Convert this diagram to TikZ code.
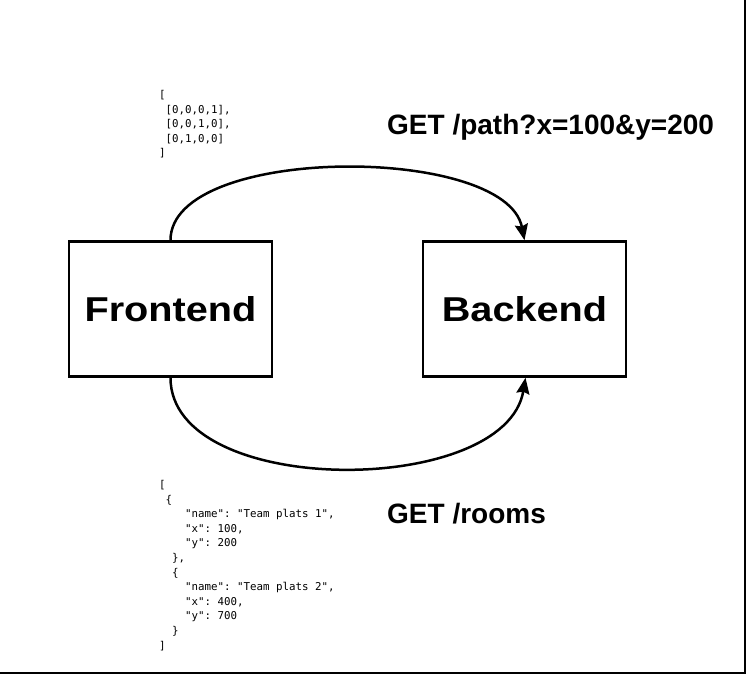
\documentclass[tikz,border=0pt]{standalone}
\usepackage{fontspec}
\setmainfont{Liberation Sans}
\setmonofont{DejaVu Sans Mono}
\newfontfamily\boxfont{Liberation Sans Bold}[FakeStretch=1.15]
\usetikzlibrary{arrows.meta}
\begin{document}
\begin{tikzpicture}[x=1pt,y=-1pt,
  box/.style={draw,line width=2.5pt,minimum width=203pt,minimum height=135pt,inner sep=0pt,
    font=\boxfont\fontsize{34.5}{38}\selectfont},
  req/.style={anchor=base west,inner sep=0pt,font=\bfseries\fontsize{28}{32}\selectfont},
  code/.style={anchor=north west,inner sep=0pt,align=left,font=\ttfamily\fontsize{10.8}{14.6}\selectfont},
  conn/.style={line width=2.5pt,-{Stealth[length=16pt,width=13pt,inset=2pt]}},
  frame/.style={line width=2pt}]
\useasboundingbox (0,0) rectangle (746,674);
\fill[white] (0,0) rectangle (746,674);
\coordinate (tr) at (744.5,0);
\coordinate (br) at (744.5,672.5);
\coordinate (bl) at (0,672.5);
\draw[frame] (tr) -- (br) -- (bl);
\node[box] (fe) at (170.5,309) {Frontend};
\node[box] (be) at (524.5,309) {Backend};
\draw[conn] (fe.north) .. controls +(0,-96) and +(-19,-96) .. (be.north);
\draw[conn] (fe.south) .. controls +(0,121) and +(-20,120) .. ([xshift=1pt]be.south);
\node[req] (q1) at (387,134.3) {GET /path?x=100\&y=200};
\node[req] (q2) at (387,523.3) {GET /rooms};
\node[code] (c1) at (159,90) {[\\
\ [0,0,0,1],\\
\ [0,0,1,0],\\
\ [0,1,0,0]\\
]};
\node[code] (c2) at (159,480) {[\\
\ \{\\
\ \ \ \ "name": "Team plats 1",\\
\ \ \ \ "x": 100,\\
\ \ \ \ "y": 200\\
\ \ \},\\
\ \ \{\\
\ \ \ \ "name": "Team plats 2",\\
\ \ \ \ "x": 400,\\
\ \ \ \ "y": 700\\
\ \ \}\\
]};
\end{tikzpicture}
\end{document}
